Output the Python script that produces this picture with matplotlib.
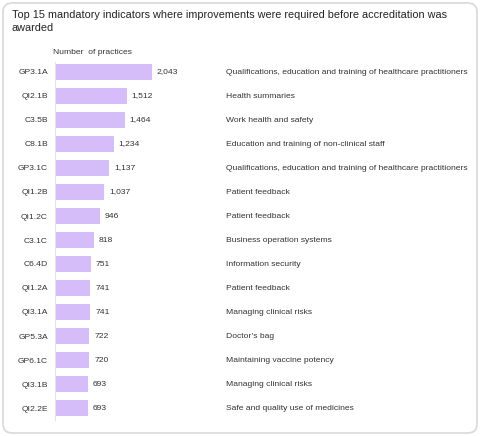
import matplotlib
matplotlib.use("Agg")
import matplotlib.pyplot as plt
from matplotlib.patches import FancyBboxPatch

plt.rcParams['font.family'] = ['Liberation Sans', 'DejaVu Sans']

codes = ['GP3.1A', 'QI2.1B', 'C3.5B', 'C8.1B', 'GP3.1C', 'QI1.2B', 'QI1.2C', 'C3.1C',
         'C6.4D', 'QI1.2A', 'QI3.1A', 'GP5.3A', 'GP6.1C', 'QI3.1B', 'QI2.2E']
practices = [2043, 1512, 1464, 1234, 1137, 1037, 946, 818, 751, 741, 741, 722, 720, 693, 693]
descriptions = [
    'Qualifications, education and training of healthcare practitioners',
    'Health summaries',
    'Work health and safety',
    'Education and training of non-clinical staff',
    'Qualifications, education and training of healthcare practitioners',
    'Patient feedback',
    'Patient feedback',
    'Business operation systems',
    'Information security',
    'Patient feedback',
    'Managing clinical risks',
    "Doctor\u2019s bag",
    'Maintaining vaccine potency',
    'Managing clinical risks',
    'Safe and quality use of medicines',
]

W, H = 480, 436
fig = plt.figure(figsize=(W / 100, H / 100), dpi=100)
fig.patch.set_facecolor('white')

# rounded frame around the card
frame = FancyBboxPatch((3 / W, 3 / H), (W - 6) / W, (H - 6) / H,
                       boxstyle='round,pad=0,rounding_size=0.02',
                       transform=fig.transFigure, facecolor='none',
                       edgecolor='#d9d9d9', linewidth=1.2, zorder=-1)
fig.patches.append(frame)

fig.text(12 / W, 1 - 10 / H,
         'Top 15 mandatory indicators where improvements were required before accreditation was\nawarded',
         fontsize=7.8, color='#222222', va='top', ha='left', linespacing=1.4)

# axes in pixel layout
ax_left, ax_right = 55, 475
ax_top, ax_bottom = 62, 420
ax = fig.add_axes([ax_left / W, 1 - ax_bottom / H, (ax_right - ax_left) / W, (ax_bottom - ax_top) / H])
ax.patch.set_alpha(0)

fs = 6.1
px_per_unit = 97 / 2043
xmax = (ax_right - ax_left) / px_per_unit
ypos = list(range(len(codes)))
ax.barh(ypos, practices, height=16 / 24, color='#d4bdf8', left=0)
ax.set_xlim(0, xmax)
ax.set_ylim(len(codes) - 1 + 12 / 24, -10 / 24)

ax.set_yticks(ypos)
ax.set_yticklabels(codes, fontsize=fs, color='#333333')
ax.tick_params(axis='y', length=0, pad=5)
ax.set_xticks([])
for s in ['top', 'right', 'bottom']:
    ax.spines[s].set_visible(False)
ax.spines['left'].set_color('#e3e3e3')
ax.spines['left'].set_linewidth(0.8)

for y, v in zip(ypos, practices):
    ax.text(v + 5 / px_per_unit, y, f'{v:,}', fontsize=fs, color='#333333',
            va='center', ha='left')

desc_x = (226 - ax_left) / (ax_right - ax_left)
tr = ax.get_yaxis_transform()
for y, d in zip(ypos, descriptions):
    ax.text(desc_x, y, d, transform=tr, fontsize=fs, color='#333333',
            va='center', ha='left')

fig.text(53 / W, 1 - 52 / H, 'Number  of practices', fontsize=fs, color='#333333',
         va='center', ha='left')

fig.savefig('out.png', dpi=100, facecolor='white')
